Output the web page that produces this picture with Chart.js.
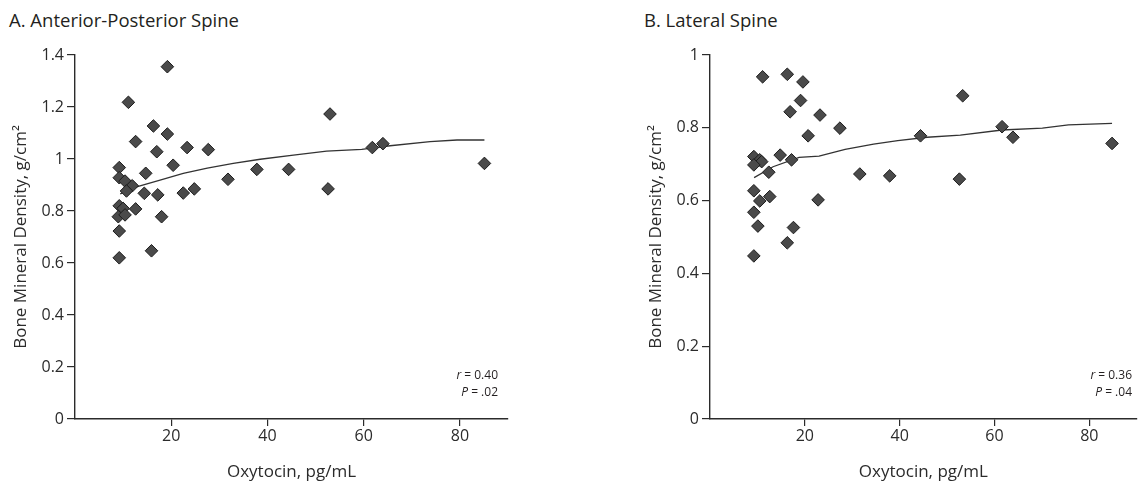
<!DOCTYPE html>
<html>
<head>
<meta charset="utf-8">
<script src="https://cdn.jsdelivr.net/npm/chart.js@4"></script>
<style>
  body { margin: 0; background: #fff; font-family: "Open Sans", sans-serif; color: #231f20; }
  #wrap { position: relative; width: 1144px; height: 483px; overflow: hidden; }
  canvas { position: absolute; top: 0; }
  .panel-title { position: absolute; top: 10px; font-size: 18.5px; line-height: 20px; white-space: nowrap; }
  .stat { position: absolute; font-size: 12px; text-align: right; line-height: 17px; }
  .stat i { font-style: italic; }
</style>
</head>
<body>
<div id="wrap">
  <div class="panel-title" style="left: 9px;">A. Anterior-Posterior Spine</div>
  <div class="panel-title" style="left: 644px;">B. Lateral Spine</div>

  <canvas id="chart-ap" width="520" height="483" style="left: 0;"></canvas>
  <canvas id="chart-lat" width="509" height="483" style="left: 635px;"></canvas>

  <div class="stat" style="right: 646px; top: 366px;"><i>r</i> = 0.40<br><i>P</i> = .02</div>
  <div class="stat" style="right: 12px; top: 366px;"><i>r</i> = 0.36<br><i>P</i> = .04</div>
</div>

<script>
// ---- data ----
const xTicks = [20, 40, 60, 80];
const apYTicks = [0, 0.2, 0.4, 0.6, 0.8, 1, 1.2, 1.4];
const latYTicks = [0, 0.2, 0.4, 0.6, 0.8, 1];

// A. Anterior-Posterior spine
const apX = [19.2, 11.1, 16.3, 19.2, 12.6, 17.0, 23.3, 27.7, 20.4, 9.2, 14.7, 9.2, 10.4, 11.9, 10.7, 14.4, 17.2, 22.5,
  24.8, 31.8, 37.8, 44.4, 53.0, 52.6, 9.2, 10.0, 12.6, 9.0, 10.4, 18.0, 9.2, 15.9, 9.2, 61.8, 64.0, 85.1];
const apY = [1.355, 1.218, 1.127, 1.096, 1.067, 1.028, 1.044, 1.036, 0.976, 0.967, 0.945, 0.928, 0.915, 0.897, 0.877, 0.868, 0.862, 0.869,
  0.885, 0.922, 0.960, 0.960, 1.173, 0.885, 0.820, 0.810, 0.808, 0.778, 0.785, 0.778, 0.723, 0.647, 0.620, 1.044, 1.059, 0.983];
const apFitX = [9.4, 12.8, 17.5, 22.5, 27.5, 32.9, 38.5, 45.4, 52.3, 59.6, 65.5, 73.8, 79.4, 85.1];
const apFitY = [0.866, 0.893, 0.918, 0.945, 0.965, 0.983, 0.999, 1.015, 1.030, 1.037, 1.051, 1.067, 1.073, 1.073];

// B. Lateral spine
const latX = [11.1, 16.3, 19.6, 19.1, 16.9, 23.2, 27.4, 20.7, 14.8, 17.2, 9.25, 10.5, 10.9, 9.25, 12.4, 9.25, 12.6, 22.8,
  10.5, 9.25, 10.1, 17.6, 16.3, 9.25, 53.3, 44.4, 61.6, 63.9, 84.8, 31.6, 37.9, 52.6];
const latY = [0.940, 0.947, 0.926, 0.875, 0.844, 0.835, 0.799, 0.778, 0.725, 0.712, 0.721, 0.712, 0.707, 0.698, 0.678, 0.627, 0.611, 0.602,
  0.599, 0.568, 0.530, 0.526, 0.484, 0.448, 0.888, 0.778, 0.803, 0.774, 0.757, 0.673, 0.668, 0.659];
const latFitX = [9.3, 13.3, 18.8, 23.0, 28.5, 34.5, 39.6, 45.8, 52.8, 61.6, 70.1, 75.6, 84.8];
const latFitY = [0.663, 0.693, 0.719, 0.722, 0.741, 0.755, 0.765, 0.774, 0.780, 0.794, 0.799, 0.808, 0.812];

const toPoints = (xs, ys) => xs.map((x, i) => ({ x, y: ys[i] }));

const INK = '#2b2b2b';
const TICK_FONT = { family: '"Open Sans", sans-serif', size: 16 };
const TITLE_FONT = { family: '"Open Sans", sans-serif', size: 17 };

function makePanel(id, xs, ys, fitX, fitY, yMax, yTicks, padRight) {
  return new Chart(document.getElementById(id), {
    type: 'scatter',
    data: {
      datasets: [
        {
          data: toPoints(xs, ys),
          pointStyle: 'rectRot',
          pointRadius: 6.3,
          backgroundColor: '#4a4a4a',
          borderColor: '#1c1c1c',
          borderWidth: 1,
        },
        {
          data: toPoints(fitX, fitY),
          showLine: true,
          pointRadius: 0,
          borderColor: '#333',
          borderWidth: 1.3,
          tension: 0,
        },
      ],
    },
    options: {
      responsive: false,
      animation: false,
      layout: { padding: { top: 55, right: padRight, bottom: 0, left: 0 } },
      plugins: { legend: { display: false }, tooltip: { enabled: false } },
      scales: {
        x: {
          type: 'linear',
          min: 0,
          max: 90,
          afterBuildTicks: s => { s.ticks = xTicks.map(v => ({ value: v })); },
          afterFit: s => { s.height = 64; },
          grid: { drawOnChartArea: false, color: INK, lineWidth: 1.2, tickLength: 7 },
          border: { display: true, color: INK, width: 1.4 },
          ticks: { color: INK, font: TICK_FONT, padding: 1, callback: v => String(v) },
          title: { display: true, text: 'Oxytocin, pg/mL', color: INK, font: TITLE_FONT, padding: { top: 0, bottom: 1 } },
        },
        y: {
          type: 'linear',
          min: 0,
          max: yMax,
          afterBuildTicks: s => { s.ticks = yTicks.map(v => ({ value: v })); },
          afterFit: s => { s.width = 75; },
          grid: { drawOnChartArea: false, color: INK, lineWidth: 1.2, tickLength: 8 },
          border: { display: true, color: INK, width: 1.4 },
          ticks: { color: INK, font: TICK_FONT, padding: 3, callback: v => String(v) },
          title: { display: true, text: 'Bone Mineral Density, g/cm²', color: INK, font: TITLE_FONT, padding: { top: 11, bottom: 0 } },
        },
      },
    },
  });
}

makePanel('chart-ap', apX, apY, apFitX, apFitY, 1.4, apYTicks, 12);
makePanel('chart-lat', latX, latY, latFitX, latFitY, 1, latYTicks, 4);
</script>
</body>
</html>
